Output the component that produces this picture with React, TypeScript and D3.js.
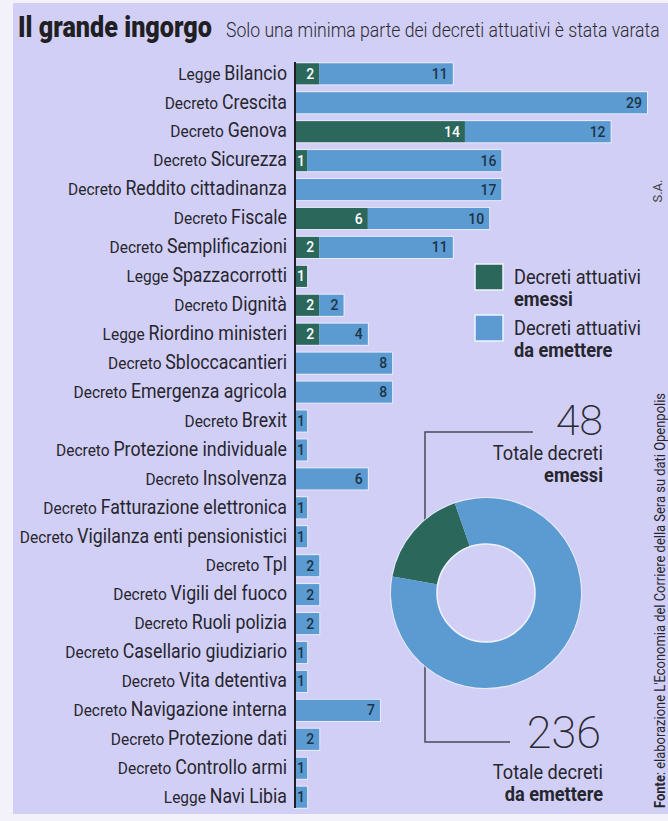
import * as d3 from "d3";

const prefixes = [
  "Legge", "Decreto", "Decreto", "Decreto", "Decreto", "Decreto", "Decreto", "Legge", "Decreto",
  "Legge", "Decreto", "Decreto", "Decreto", "Decreto", "Decreto", "Decreto", "Decreto", "Decreto",
  "Decreto", "Decreto", "Decreto", "Decreto", "Decreto", "Decreto", "Decreto", "Legge",
];
const names = [
  "Bilancio", "Crescita", "Genova", "Sicurezza", "Reddito cittadinanza", "Fiscale", "Semplificazioni",
  "Spazzacorrotti", "Dignità", "Riordino ministeri", "Sbloccacantieri", "Emergenza agricola", "Brexit",
  "Protezione individuale", "Insolvenza", "Fatturazione elettronica", "Vigilanza enti pensionistici",
  "Tpl", "Vigili del fuoco", "Ruoli polizia", "Casellario giudiziario", "Vita detentiva",
  "Navigazione interna", "Protezione dati", "Controllo armi", "Navi Libia",
];
const emessi = [2, 0, 14, 1, 0, 6, 2, 1, 2, 2, 0, 0, 0, 0, 0, 0, 0, 0, 0, 0, 0, 0, 0, 0, 0, 0];
const daEmettere = [11, 29, 12, 16, 17, 10, 11, 0, 2, 4, 8, 8, 1, 1, 6, 1, 1, 2, 2, 2, 1, 1, 7, 2, 1, 1];
const totaleEmessi = 48;
const totaleDaEmettere = 236;

const W = 668;
const H = 821;
const DARK = "#2c675c";
const LIGHT = "#5b9bd1";
const BG = "#d2cff6";
const INK = "#26262e";
const FONT = "Roboto, 'Open Sans', sans-serif";
const SQ = 0.91; // schiacciamento orizzontale del testo

export default function App() {
  const axisX = 295;
  const x = d3.scaleLinear().domain([0, 29]).range([axisX, 647]);
  const y = d3.scaleBand().domain(names).range([59.5, 811.5]).paddingInner(0.27).paddingOuter(0.13);
  const bw = y.bandwidth();

  const rows = names.map((n, i) => ({ name: n, prefix: prefixes[i], e: emessi[i], d: daEmettere[i] }));

  const pie = d3
    .pie<number>()
    .sort(null)
    .startAngle((-80 * Math.PI) / 180)
    .endAngle((280 * Math.PI) / 180);
  const arcs = pie([totaleEmessi, totaleDaEmettere]);
  const arc = d3.arc<d3.PieArcDatum<number>>().innerRadius(49).outerRadius(95);
  const cx = 486;
  const cy = 593;

  const valueLabel = (x0: number, x1: number, v: number, fill: string, cyy: number) => {
    const narrow = x1 - x0 < 20;
    return (
      <text
        x={narrow ? (x0 + x1) / 2 : x1 - 5}
        y={cyy}
        dy="0.36em"
        textAnchor={narrow ? "middle" : "end"}
        fontSize={14}
        fontWeight={500}
        fill={fill}
      >
        {v}
      </text>
    );
  };

  return (
    <svg
      width={W}
      height={H}
      viewBox={`0 0 ${W} ${H}`}
      style={{ position: "absolute", left: 0, top: 0, fontFamily: FONT }}
    >
      <rect x={0} y={0} width={W} height={H} fill="#f3f2fb" />
      <rect x={13} y={3} width={W - 13} height={811} fill={BG} />

      {/* titolo */}
      <text x={18} y={37} fill="#1f1f24" fontSize={29} fontWeight={900} textLength={194} lengthAdjust="spacingAndGlyphs">
        Il grande ingorgo
      </text>
      <g transform="translate(226,37) scale(0.8,1)">
        <text x={0} y={0} fill="#2b2b33" fontSize={20} fontWeight={300} textLength={542} lengthAdjust="spacingAndGlyphs">
          Solo una minima parte dei decreti attuativi è stata varata
        </text>
      </g>

      {/* etichette */}
      <g>
        {rows.map((r) => (
          <g key={r.name} transform={`translate(287,${y(r.name)! + bw / 2}) scale(${SQ},1)`}>
            <text x={0} dy="0.36em" textAnchor="end" fill={INK}>
              <tspan fontSize={17}>{r.prefix} </tspan>
              <tspan fontSize={19.5}>{r.name}</tspan>
            </text>
          </g>
        ))}
      </g>

      {/* barre */}
      <g>
        {rows.map((r) => {
          const yy = y(r.name)!;
          const cyy = yy + bw / 2;
          const xe = x(r.e);
          const xd = x(r.e + r.d);
          return (
            <g key={r.name}>
              <rect
                x={axisX}
                y={yy}
                width={xd - axisX}
                height={bw}
                fill="none"
                stroke="#eef3fb"
                strokeWidth={2}
                opacity={0.8}
              />
              {r.e > 0 && <rect x={axisX} y={yy} width={xe - axisX} height={bw} fill={DARK} />}
              {r.d > 0 && <rect x={xe} y={yy} width={xd - xe} height={bw} fill={LIGHT} />}
              {r.e > 0 && valueLabel(axisX, xe, r.e, "#ffffff", cyy)}
              {r.d > 0 && valueLabel(xe, xd, r.d, "#1d3448", cyy)}
            </g>
          );
        })}
      </g>
      <line x1={axisX} x2={axisX} y1={62} y2={808} stroke="#1d1d22" strokeWidth={2} />

      {/* legenda */}
      <g fill={INK} fontSize={20}>
        <rect x={475} y={264} width={28} height={26} fill={DARK} stroke="#eef3fb" strokeWidth={1.5} />
        <g transform={`translate(514,0) scale(${SQ},1)`}>
          <text y={284}>Decreti attuativi</text>
          <text y={306} fontWeight={700}>emessi</text>
        </g>
        <rect x={475} y={315} width={28} height={26} fill={LIGHT} stroke="#eef3fb" strokeWidth={1.5} />
        <g transform={`translate(514,0) scale(${SQ},1)`}>
          <text y={335}>Decreti attuativi</text>
          <text y={357} fontWeight={700}>da emettere</text>
        </g>
      </g>

      {/* ciambella */}
      <path d="M533,432 H425 V742 H510" fill="none" stroke="#4a4a55" strokeWidth={1.5} />
      <g transform={`translate(${cx},${cy})`}>
        <circle r={96} fill="#eef3fb" opacity={0.8} />
        {arcs.map((a, i) => (
          <path key={i} d={arc(a)!} fill={i === 0 ? DARK : LIGHT} />
        ))}
        <circle r={49} fill={BG} stroke="#eef3fb" strokeWidth={1.5} />
      </g>
      <g fill={INK} textAnchor="end">
        <text x={603} y={435} fontSize={43} fontWeight={200} fill="#2b2b33">
          {totaleEmessi}
        </text>
        <g transform={`translate(603,0) scale(${SQ},1)`}>
          <text y={460} fontSize={20}>Totale decreti</text>
          <text y={482} fontSize={20} fontWeight={700}>emessi</text>
        </g>
        <text x={601} y={748} fontSize={45} fontWeight={200} fill="#2b2b33">
          {totaleDaEmettere}
        </text>
        <g transform={`translate(603,0) scale(${SQ},1)`}>
          <text y={779} fontSize={20}>Totale decreti</text>
          <text y={801} fontSize={20} fontWeight={700}>da emettere</text>
        </g>
      </g>

      {/* fonte */}
      <text
        transform="translate(665,808) rotate(-90)"
        fontSize={15}
        fill={INK}
        textLength={415}
        lengthAdjust="spacingAndGlyphs"
      >
        <tspan fontWeight={700}>Fonte</tspan>: elaborazione L'Economia del Corriere della Sera su dati Openpolis
      </text>
      <text transform="translate(662,191) rotate(-90)" fontSize={13} fill="#444" textAnchor="middle">
        S.A.
      </text>
    </svg>
  );
}
